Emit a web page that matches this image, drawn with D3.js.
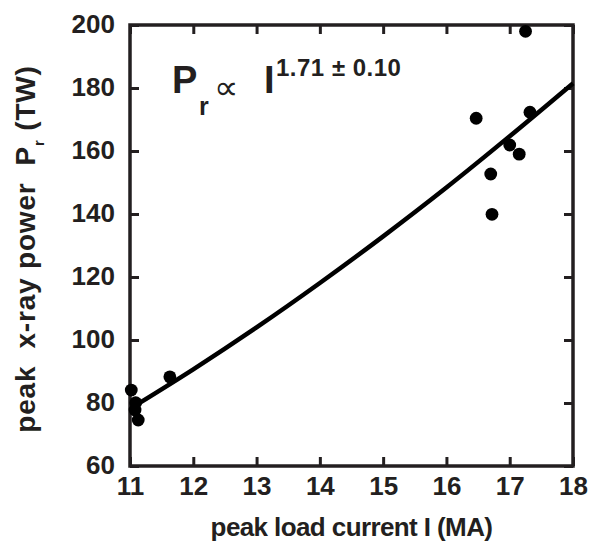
<!DOCTYPE html>
<html>
<head>
<meta charset="utf-8">
<script src="https://cdn.jsdelivr.net/npm/d3@7"></script>
<style>
    body { margin: 0; background: #fff; }
    text { font-family: "Liberation Sans", Arial, Helvetica, sans-serif; font-weight: bold; fill: #231f20; }
</style>
</head>
<body>
<script>
// peak x-ray power vs peak load current

var w = 601, h = 543;
var ink = "#231f20";

// measured shots
var current = [11.02, 11.09, 11.08, 11.13, 11.63, 16.47, 16.70, 16.72, 17.00, 17.15, 17.25, 17.32];
var power   = [84.1, 80.1, 77.8, 74.6, 88.3, 170.4, 152.7, 139.9, 161.9, 159.0, 198.0, 172.3];

// fitted curve
var fitCurrent = [11.1, 12, 13, 14, 15, 16, 17, 18];
var fitPower   = [79.4, 90.7, 104.0, 118.1, 132.9, 148.4, 164.7, 181.5];

// tick labels
var xTicks = [11, 12, 13, 14, 15, 16, 17, 18];
var yTicks = [60, 80, 100, 120, 140, 160, 180, 200];

var margin = { left: 130, right: 28, top: 25, bottom: 77 };
var innerW = w - margin.left - margin.right,
    innerH = h - margin.top - margin.bottom;

var svg = d3.select("body")
    .append("svg")
    .attr("width", w)
    .attr("height", h);

var g = svg.append("g")
    .attr("transform", "translate(" + margin.left + "," + margin.top + ")");

var x = d3.scaleLinear().domain([11, 18]).range([0, innerW]);
var y = d3.scaleLinear().domain([60, 200]).range([innerH, 0]);

// axes with inward ticks
var tick = 9;

var bottom = g.append("g")
    .attr("transform", "translate(0," + innerH + ")")
    .call(d3.axisBottom(x).tickValues(xTicks).tickSizeInner(-tick).tickSizeOuter(0).tickFormat(d3.format("d")));
bottom.selectAll("text").attr("y", 29).attr("dy", 0).style("font-size", "26px");

var left = g.append("g")
    .call(d3.axisLeft(y).tickValues(yTicks).tickSizeInner(-tick).tickSizeOuter(0).tickFormat(d3.format("d")));
left.selectAll("text").attr("x", -15).attr("dy", "0.27em").style("font-size", "26px");

var top = g.append("g")
    .call(d3.axisTop(x).tickValues(xTicks).tickSizeInner(-tick).tickSizeOuter(0).tickFormat(""));

var right = g.append("g")
    .attr("transform", "translate(" + innerW + ",0)")
    .call(d3.axisRight(y).tickValues(yTicks).tickSizeInner(-tick).tickSizeOuter(0).tickFormat(""));

g.selectAll(".domain").remove();
g.selectAll(".tick line").attr("stroke", ink).attr("stroke-width", 3);
g.selectAll(".tick text").attr("fill", ink);

// frame
g.append("rect")
    .attr("width", innerW)
    .attr("height", innerH)
    .attr("fill", "none")
    .attr("stroke", ink)
    .attr("stroke-width", 3.5);

// fit line
var line = d3.line()
    .x(function (d, i) { return x(fitCurrent[i]); })
    .y(function (d) { return y(d); })
    .curve(d3.curveMonotoneX);

g.append("path")
    .datum(fitPower)
    .attr("d", line)
    .attr("fill", "none")
    .attr("stroke", "#000")
    .attr("stroke-width", 4.5);

// data points
g.selectAll(".dot")
    .data(current)
    .enter()
    .append("circle")
    .attr("class", "dot")
    .attr("cx", function (d) { return x(d); })
    .attr("cy", function (d, i) { return y(power[i]); })
    .attr("r", 6.4)
    .attr("fill", "#000");

// annotation  P_r ∝ I^(1.71 ± 0.10)
var note = svg.append("g");
note.append("text").attr("x", 172).attr("y", 93).style("font-size", "38px").text("P");
note.append("text").attr("x", 199).attr("y", 115).style("font-size", "25px").text("r");
note.append("text").attr("x", 214).attr("y", 99)
    .style("font-family", "'DejaVu Sans', sans-serif").style("font-weight", "normal")
    .style("font-size", "34px").text("\u221d");
note.append("text").attr("x", 264).attr("y", 93).style("font-size", "38px").text("I");
note.append("text").attr("x", 276).attr("y", 76).style("font-size", "24px")
    .style("letter-spacing", "0.5px").text("1.71 \u00b1 0.10");

// axis titles
svg.append("text")
    .attr("x", margin.left + innerW / 2)
    .attr("y", 536)
    .attr("text-anchor", "middle")
    .style("font-size", "26px")
    .style("letter-spacing", "-0.6px")
    .text("peak load current I (MA)");

var ytitle = svg.append("text")
    .attr("transform", "translate(35,249) rotate(-90)")
    .attr("text-anchor", "middle")
    .attr("xml:space", "preserve")
    .style("white-space", "pre")
    .style("font-size", "28px")
    .style("letter-spacing", "0.8px");
ytitle.append("tspan").text("peak  x-ray power  P");
ytitle.append("tspan").attr("dy", 9).style("font-size", "15px").text("r");
ytitle.append("tspan").attr("dy", -9).text(" (TW)");
</script>
</body>
</html>
